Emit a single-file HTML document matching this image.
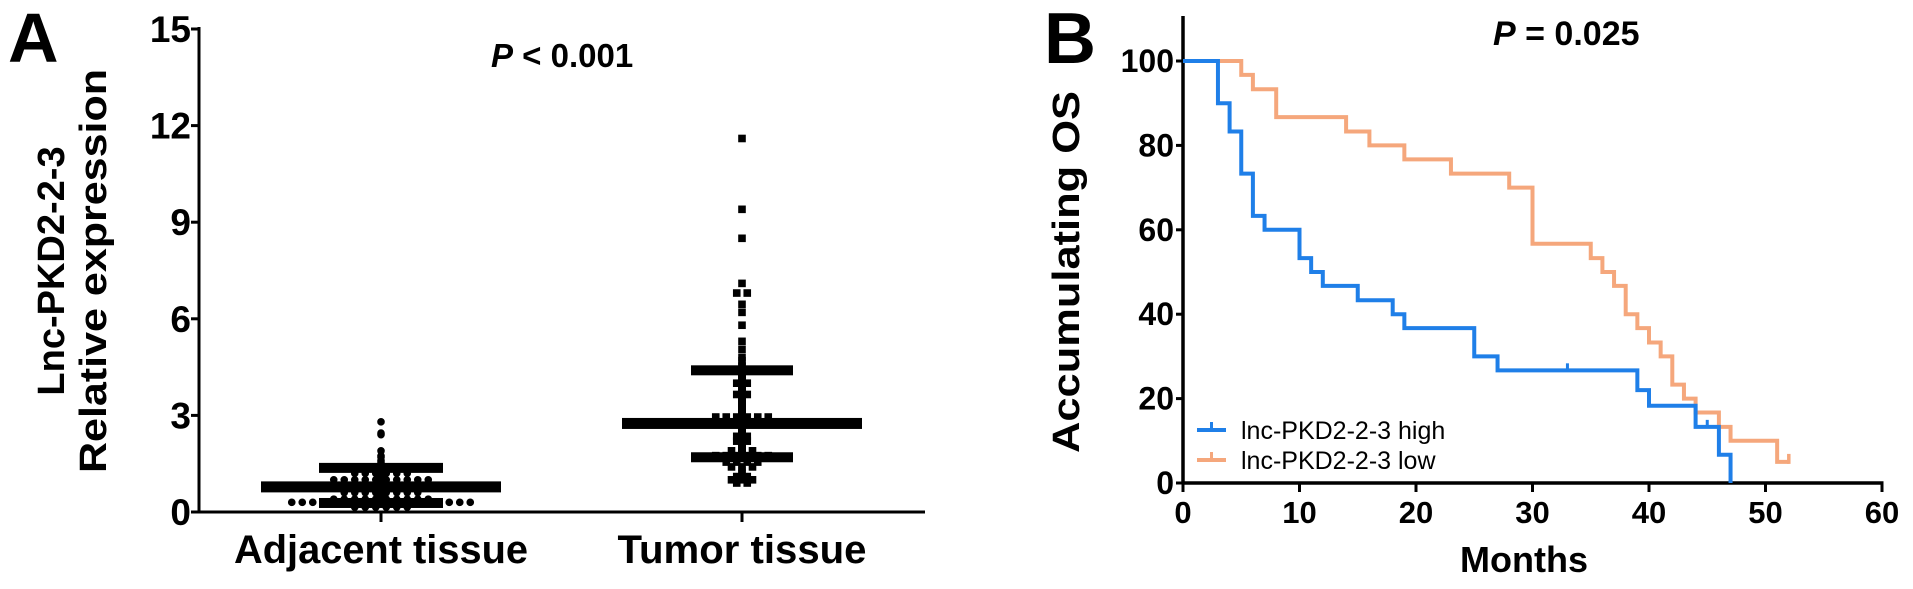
<!DOCTYPE html>
<html><head><meta charset="utf-8"><style>
html,body{margin:0;padding:0;background:#fff;}
svg{display:block;font-family:"Liberation Sans",Arial,sans-serif;}
</style></head><body>
<svg id="fig" width="1913" height="589" viewBox="0 0 1913 589" xmlns="http://www.w3.org/2000/svg">
<g id="panelA"></g>
<g id="panelB"></g>
</svg>
<script>
// ---------- Panel A data ----------
const aCategories = ["Adjacent tissue", "Tumor tissue"];
const aTicks = [0, 3, 6, 9, 12, 15];
const adjacentValues = [2.8, 2.45, 2.4, 1.9, 1.75, 1.7, 1.6, 1.55,
  1.4,1.4,1.4,1.4,1.4,1.4,1.4,1.4,1.4,1.4,1.4,1.4,
  1.2,1.2,1.2,1.2,1.2,1.2,
  1.0,1.0,1.0,1.0,1.0,1.0,1.0,1.0,1.0,1.0,
  0.8,0.8,0.8,0.8,0.8,0.8,0.8,0.8,
  0.6,0.6,0.6,0.6,0.6,0.6,0.6,0.6,
  0.4,0.4,0.4,0.4,0.4,0.4,0.4,0.4,0.4,0.4,
  0.3,0.3,0.3,0.3,0.3,0.3,0.3,0.3,0.3,0.3,0.3,0.3,0.3,0.3,0.3,0.3,0.3,0.3,
  0.15,0.15,0.15,0.15,0.15,0.15];
const tumorValues = [11.6, 9.4, 8.5, 7.1, 6.8, 6.8, 6.45, 6.2, 5.8, 5.3, 5.05, 4.8, 4.7, 4.55, 4.5,
  4.0, 4.0, 3.65, 3.65, 3.4, 3.1,
  2.95,2.95,2.95,2.95,2.95,2.95,
  2.75,2.75,2.75,2.75,2.75,2.75,2.75,
  2.35,2.35, 2.2,2.2, 1.9,1.9,1.9,
  1.75,1.75,1.75,1.75,1.75,1.75,
  1.55,1.55,1.55,1.55, 1.4,1.4,1.4, 1.3, 1.2, 1.1,1.1, 1.0,1.0,1.0, 0.9,0.9];
const aMedians = [0.78, 2.75];
const aQ1 = [0.28, 1.7];
const aQ3 = [1.37, 4.4];

// ---------- Panel B data ----------
const bXTicks = [0, 10, 20, 30, 40, 50, 60];
const bYTicks = [0, 20, 40, 60, 80, 100];
const highTimes = [0, 3, 4, 5, 6, 7, 10, 11, 12, 15, 18, 19, 25, 27, 39, 40, 44, 46, 47];
const highSurv  = [100, 90, 83.3, 73.3, 63.3, 60, 53.3, 50, 46.7, 43.3, 40, 36.7, 30, 26.7, 22, 18.3, 13.3, 6.7, 0];
const highEnd = 47;
const highCensor = [33, 45];
const lowTimes = [0, 5, 6, 8, 14, 16, 19, 23, 28, 30, 35, 36, 37, 38, 39, 40, 41, 42, 43, 44, 46, 47, 51];
const lowSurv  = [100, 96.7, 93.3, 86.7, 83.3, 80, 76.7, 73.3, 70, 56.7, 53.3, 50, 46.7, 40, 36.7, 33.3, 30, 23.3, 20, 16.7, 13.3, 10, 5];
const lowEnd = 52;
const lowCensor = [52];

const NS = "http://www.w3.org/2000/svg";
function mk(parent, tag, attrs, text) {
  const e = document.createElementNS(NS, tag);
  for (const k in attrs) e.setAttribute(k, attrs[k]);
  if (text !== undefined) e.textContent = text;
  parent.appendChild(e);
  return e;
}

// ================= PANEL A =================
(function () {
  const g = document.getElementById("panelA");
  const x0 = 199, yBase = 512, yTop = 29, xEnd = 925;
  const yA = v => yBase - (v / 15) * (yBase - yTop);
  const catX = [381, 742];

  let t = mk(g, "text", {x: 8, y: 62, "font-size": 70, "font-weight": "bold"}, "A");
  
  

  let ax = mk(g, "line", {x1: x0, y1: yTop - 2, x2: x0, y2: yBase + 1.5, stroke: "#000", "stroke-width": 3});
  
  
  let bx = mk(g, "line", {x1: x0 - 1.5, y1: yBase, x2: xEnd, y2: yBase, stroke: "#000", "stroke-width": 3});
  
  

  aTicks.forEach(v => {
    const y = yA(v);
    const tk = mk(g, "line", {x1: x0 - 8, y1: y, x2: x0, y2: y, stroke: "#000", "stroke-width": 3});
    
    
    const lb = mk(g, "text", {x: x0 - 8, y: y + 13, "font-size": 37, "font-weight": "bold", "text-anchor": "end"}, String(v));
    
    
  });

  aCategories.forEach((c, i) => {
    const tk = mk(g, "line", {x1: catX[i], y1: yBase, x2: catX[i], y2: yBase + 10, stroke: "#000", "stroke-width": 3});
    
    
    const w = i === 0 ? 294 : 249;
    const lb = mk(g, "text", {x: catX[i], y: 563, "font-size": 40, "font-weight": "bold", "text-anchor": "middle", textLength: w, lengthAdjust: "spacingAndGlyphs"}, c);
    
    
  });

  const yt = mk(g, "text", {transform: "translate(64,271) rotate(-90)", "font-size": 38, "font-weight": "bold", "text-anchor": "middle"}, "Lnc-PKD2-2-3");
  
  
  const yt2 = mk(g, "text", {transform: "translate(106,271) rotate(-90)", "font-size": 38, "font-weight": "bold", "text-anchor": "middle", textLength: 404, lengthAdjust: "spacingAndGlyphs"}, "Relative expression");
  
  

  const pt = mk(g, "text", {x: 491, y: 67, "font-size": 33, "font-weight": "bold"});
  
  
  mk(pt, "tspan", {"font-style": "italic"}, "P");
  mk(pt, "tspan", {}, " < 0.001");

  function swarm(vals, cx, spacing, drawFn, name) {
    const groups = {};
    vals.forEach(v => { const k = v.toFixed(2); (groups[k] = groups[k] || []).push(v); });
    Object.keys(groups).forEach(k => {
      const arr = groups[k], n = arr.length;
      arr.forEach((v, i) => {
        const off = (i - (n - 1) / 2) * spacing;
        const e = drawFn(cx + off, yA(v));
        
        
      });
    });
  }
  swarm(adjacentValues, catX[0], 10.5, (x, y) => mk(g, "circle", {cx: x, cy: y, r: 3.8, fill: "#000"}), "adjacent-point");
  swarm(tumorValues, catX[1], 10.5, (x, y) => mk(g, "rect", {x: x - 3.8, y: y - 3.8, width: 7.6, height: 7.6, fill: "#000"}), "tumor-point");

  aCategories.forEach((c, i) => {
    const cx = catX[i];
    const v = mk(g, "line", {x1: cx, y1: yA(aQ1[i]), x2: cx, y2: yA(aQ3[i]), stroke: "#000", "stroke-width": 8});
    
    
    const qw = i === 0 ? 124 : 102;
    [aQ1[i], aQ3[i]].forEach(q => {
      const r = mk(g, "rect", {x: cx - qw / 2, y: yA(q) - 5, width: qw, height: 10, fill: "#000"});
      
      
    });
    const m = mk(g, "rect", {x: cx - 120, y: yA(aMedians[i]) - 5.5, width: 240, height: 11, fill: "#000"});
    
    
  });
})();

// ================= PANEL B =================
(function () {
  const g = document.getElementById("panelB");
  const x0 = 1183, xScale = 11.65, y0 = 483, yScale = 4.22;
  const xB = t => x0 + t * xScale;
  const yB = v => y0 - v * yScale;

  let t = mk(g, "text", {x: 1044, y: 63, "font-size": 72, "font-weight": "bold"}, "B");
  
  

  const ax = mk(g, "line", {x1: x0, y1: 16, x2: x0, y2: y0 + 1.5, stroke: "#000", "stroke-width": 3.5});
  
  
  const bx = mk(g, "line", {x1: x0 - 1.5, y1: y0, x2: xB(60) + 1.5, y2: y0, stroke: "#000", "stroke-width": 3.5});
  
  

  bYTicks.forEach(v => {
    const tk = mk(g, "line", {x1: x0 - 7, y1: yB(v), x2: x0, y2: yB(v), stroke: "#000", "stroke-width": 3});
    
    
    const lb = mk(g, "text", {x: x0 - 9, y: yB(v) + 11, "font-size": 32, "font-weight": "bold", "text-anchor": "end"}, String(v));
    
    
  });
  bXTicks.forEach(v => {
    const tk = mk(g, "line", {x1: xB(v), y1: y0, x2: xB(v), y2: y0 + 9, stroke: "#000", "stroke-width": 3});
    
    
    const lb = mk(g, "text", {x: xB(v), y: 523, "font-size": 31, "font-weight": "bold", "text-anchor": "middle"}, String(v));
    
    
  });

  const xt = mk(g, "text", {x: 1524, y: 572, "font-size": 36, "font-weight": "bold", "text-anchor": "middle"}, "Months");
  
  
  const yt = mk(g, "text", {transform: "translate(1079,272) rotate(-90)", "font-size": 38, "font-weight": "bold", "text-anchor": "middle", textLength: 362, lengthAdjust: "spacingAndGlyphs"}, "Accumulating OS");
  
  

  const pt = mk(g, "text", {x: 1493, y: 45, "font-size": 34, "font-weight": "bold"});
  
  
  mk(pt, "tspan", {"font-style": "italic"}, "P");
  mk(pt, "tspan", {}, " = 0.025");

  function stepPath(times, surv, end) {
    let d = "M" + xB(times[0]) + "," + yB(surv[0]);
    for (let i = 1; i < times.length; i++) {
      d += " H" + xB(times[i]) + " V" + yB(surv[i]);
    }
    d += " H" + xB(end);
    return d;
  }
  function survAt(times, surv, t) {
    let s = surv[0];
    for (let i = 0; i < times.length; i++) if (times[i] <= t) s = surv[i];
    return s;
  }
  const lowColor = "#f5a77c", highColor = "#1f7fe8";
  const lp = mk(g, "path", {d: stepPath(lowTimes, lowSurv, lowEnd), fill: "none", stroke: lowColor, "stroke-width": 4});
  
  
  lowCensor.forEach(c => {
    const s = survAt(lowTimes, lowSurv, c);
    const m = mk(g, "line", {x1: xB(c), y1: yB(s) + 2, x2: xB(c), y2: yB(s) - 8, stroke: lowColor, "stroke-width": 3.5});
    
    
  });
  const hp = mk(g, "path", {d: stepPath(highTimes, highSurv, highEnd), fill: "none", stroke: highColor, "stroke-width": 4});
  
  
  highCensor.forEach(c => {
    const s = survAt(highTimes, highSurv, c);
    const m = mk(g, "line", {x1: xB(c), y1: yB(s), x2: xB(c), y2: yB(s) - 7, stroke: highColor, "stroke-width": 3});
    
    
  });

  // legend
  const legend = [["lnc-PKD2-2-3 high", highColor, 430], ["lnc-PKD2-2-3 low", lowColor, 460]];
  legend.forEach(([label, col, y]) => {
    const lg = mk(g, "g", {});
    
    
    mk(lg, "line", {x1: 1197, y1: y, x2: 1226, y2: y, stroke: col, "stroke-width": 4});
    mk(lg, "line", {x1: 1211.5, y1: y, x2: 1211.5, y2: y - 8, stroke: col, "stroke-width": 3});
    mk(lg, "text", {x: 1241, y: y + 9, "font-size": 25, fill: "#000"}, label);
  });
})();
</script>
</body></html>
